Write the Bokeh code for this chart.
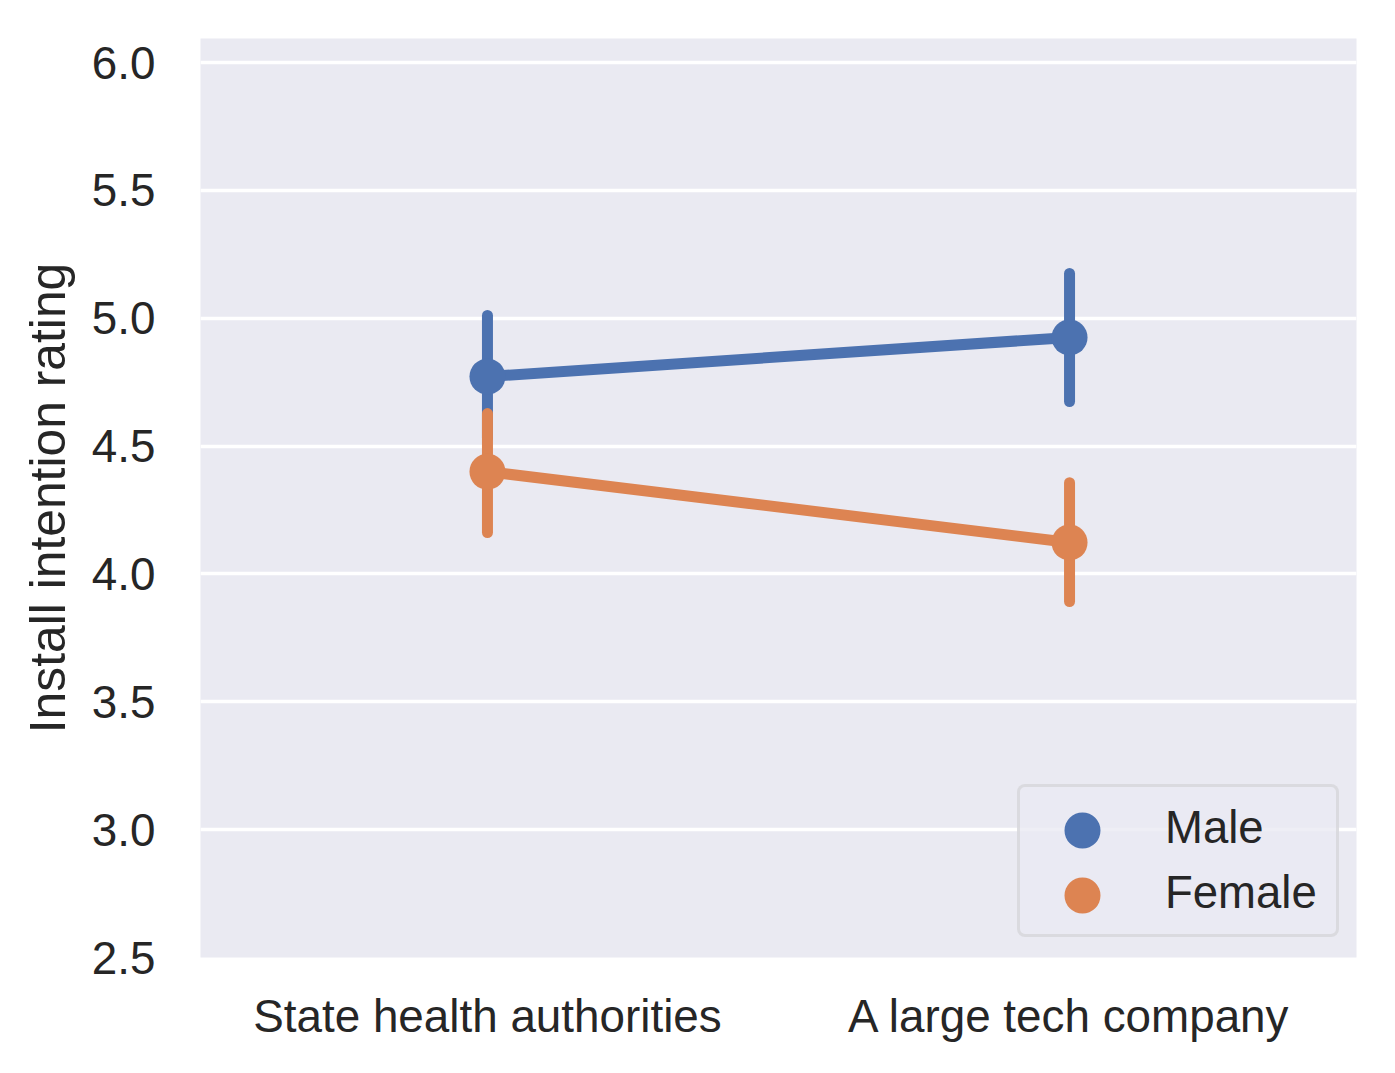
from bokeh.plotting import figure
from bokeh.models import Range1d, FixedTicker, PrintfTickFormatter, Legend, LegendItem, ColumnDataSource
from bokeh.embed import file_html
from bokeh.resources import INLINE

sources = ["State health authorities", "A large tech company"]
genders = ["Male", "Female"]
male_mean = [4.772, 4.925]
male_low = [4.533, 4.674]
male_high = [5.011, 5.175]
female_mean = [4.400, 4.123]
female_low = [4.162, 3.892]
female_high = [4.627, 4.357]
y_ticks = [2.5, 3.0, 3.5, 4.0, 4.5, 5.0, 5.5, 6.0]
colors = {"Male": "#4C72B0", "Female": "#DD8452"}

FONT = "Liberation Sans"
TXT = "#262626"
FS_TICK = "45.8px"
FS_LABEL = "49.8px"
FS_LEG = "45.5px"

p = figure(width=1379, height=1057, output_backend="svg", toolbar_location=None,
           x_range=Range1d(-0.493, 1.493), y_range=Range1d(2.5, 6.094),
           min_border_left=200, min_border_right=23, min_border_top=38, min_border_bottom=100)
p.background_fill_color = "#EAEAF2"
p.border_fill_color = "white"
p.outline_line_color = None

p.xgrid.grid_line_color = None
p.ygrid.grid_line_color = "white"
p.ygrid.grid_line_width = 3.5

xs = list(range(len(sources)))
p.xaxis.ticker = FixedTicker(ticks=xs)
p.xaxis.major_label_overrides = {i: s for i, s in enumerate(sources)}
p.yaxis.ticker = FixedTicker(ticks=y_ticks)
p.yaxis.formatter = PrintfTickFormatter(format="%.1f")
p.yaxis.axis_label = "Install intention rating"

for ax in [p.xaxis[0], p.yaxis[0]]:
    ax.axis_line_color = None
    ax.major_tick_line_color = None
    ax.minor_tick_line_color = None
    ax.major_tick_out = 0
    ax.major_tick_in = 0
    ax.major_label_text_font = FONT
    ax.major_label_text_font_size = FS_TICK
    ax.major_label_text_color = TXT
    ax.axis_label_text_font = FONT
    ax.axis_label_text_font_size = FS_LABEL
    ax.axis_label_text_color = TXT
    ax.axis_label_text_font_style = "normal"
p.xaxis.major_label_standoff = 33
p.yaxis.major_label_standoff = 45
p.yaxis.axis_label_standoff = 13

series = {
    "Male": (male_mean, male_low, male_high),
    "Female": (female_mean, female_low, female_high),
}
markers = {}
for g in genders:
    m, lo, hi = series[g]
    src = ColumnDataSource(dict(x=xs, m=m, lo=lo, hi=hi))
    c = colors[g]
    p.segment(x0="x", y0="lo", x1="x", y1="hi", source=src, line_color=c, line_width=11, line_cap="round")
    p.line(x="x", y="m", source=src, line_color=c, line_width=11)
    markers[g] = p.scatter(x="x", y="m", source=src, size=36, fill_color=c, line_color=c, line_width=0)

# legend frame with labels
box = Legend(items=[LegendItem(label=g, renderers=[markers[g]]) for g in genders], location=(817, 20))
box.padding = dict(left=0, right=0, top=8, bottom=9)
box.glyph_height = 65
box.glyph_width = 130
box.label_height = 65
box.spacing = 0
box.label_standoff = 15
box.label_width = 171
box.label_text_font = FONT
box.label_text_font_size = FS_LEG
box.label_text_color = TXT
box.label_text_baseline = "middle"
box.background_fill_color = "#EAEAF2"
box.background_fill_alpha = 0.8
box.border_line_color = "#CCCCCC"
box.border_line_width = 3
box.margin = 0
if "border_radius" in Legend.properties():
    box.border_radius = 8
p.add_layout(box, "center")

# larger legend markers drawn on top, one per series
centers_from_bottom = {"Male": 127, "Female": 62}
for g in genders:
    lg = Legend(items=[LegendItem(label=" ", renderers=[markers[g]])],
                location=(837, centers_from_bottom[g] - 45))
    lg.padding = 0
    lg.glyph_height = 90
    lg.glyph_width = 90
    lg.label_height = 90
    lg.label_width = 0
    lg.label_standoff = 0
    lg.spacing = 0
    lg.margin = 0
    lg.label_text_font_size = "10px"
    lg.border_line_color = None
    lg.background_fill_alpha = 0
    p.add_layout(lg, "center")

open("out.html", "w").write(file_html(p, INLINE))
